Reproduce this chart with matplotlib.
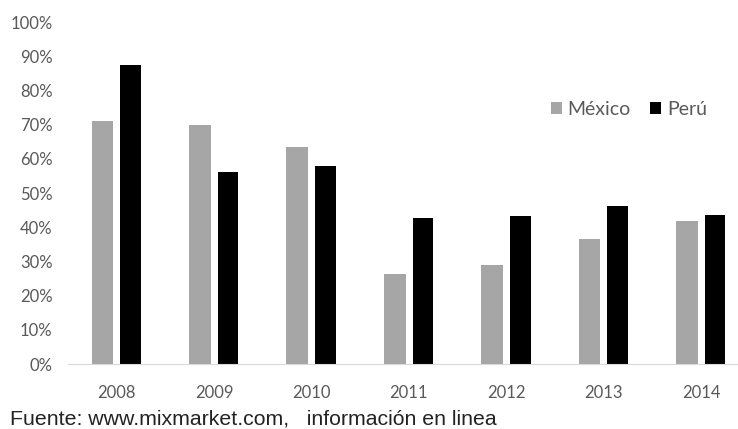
import numpy as np
import matplotlib
matplotlib.use('Agg')
import matplotlib.pyplot as plt
from matplotlib.ticker import PercentFormatter

# Datos
years = ['2008', '2009', '2010', '2011', '2012', '2013', '2014']
mexico = [0.71, 0.70, 0.635, 0.263, 0.29, 0.365, 0.418]
peru = [0.874, 0.56, 0.58, 0.427, 0.432, 0.463, 0.437]

plt.rcParams['font.family'] = ['Lato', 'DejaVu Sans']

fig = plt.figure(figsize=(7.38, 4.29), dpi=100)
ax = fig.add_axes([0.092, 0.1515, 0.908, 0.7972])

x = np.arange(len(years))
ax.bar(x - 0.145, mexico, width=0.225, color='#A6A6A6', label='México')
ax.bar(x + 0.145, peru, width=0.21, color='black', label='Perú')

ax.set_ylim(0, 1)
ax.set_xlim(-0.5, 6.38)
ax.set_yticks(np.arange(0, 1.01, 0.1))
ax.yaxis.set_major_formatter(PercentFormatter(1.0, decimals=0))
ax.set_xticks(x)
ax.set_xticklabels(years)

for s in ['top', 'right', 'left']:
    ax.spines[s].set_visible(False)
ax.spines['bottom'].set_color('#D9D9D9')
ax.tick_params(axis='both', length=0, labelsize=12, labelcolor='#595959')
ax.tick_params(axis='y', pad=11)
ax.tick_params(axis='x', pad=15)

ax.legend(loc='center left', bbox_to_anchor=(0.695, 0.745), ncol=2, frameon=False,
          fontsize=14, labelcolor='#595959', handlelength=0.55, handleheight=0.55,
          handletextpad=0.3, columnspacing=1.0)

fig.text(0.013, 0.01, 'Fuente: www.mixmarket.com,   información en linea',
         family='Liberation Sans', fontsize=15.3, color='#222222')

fig.savefig('out.png', dpi=100)
